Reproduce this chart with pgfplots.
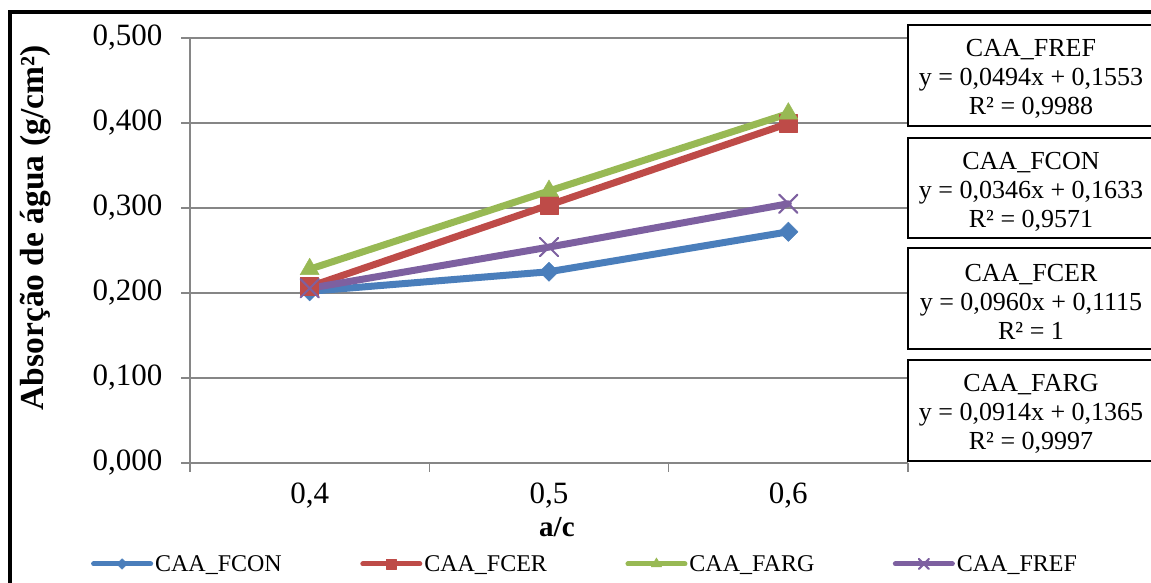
\documentclass[border=0pt]{standalone}
\usepackage{fontspec}
\setmainfont{Liberation Serif}
\usepackage{pgfplots}
\pgfplotsset{compat=1.18}
\definecolor{cblue}{RGB}{74,126,187}
\definecolor{cred}{RGB}{190,75,72}
\definecolor{cgreen}{RGB}{152,185,84}
\definecolor{cpurple}{RGB}{125,96,160}
\definecolor{cgrid}{RGB}{134,134,134}
\begin{document}
\begin{tikzpicture}[x=1bp,y=1bp]
\useasboundingbox (0,0) rectangle (1151,583);
\clip (0,0) rectangle (1151,583);
\begin{axis}[
  at={(190bp,120bp)}, anchor=south west,
  scale only axis, width=718bp, height=425bp,
  xmin=-0.5, xmax=2.5, ymin=0, ymax=0.5,
  axis x line*=bottom, axis y line*=left,
  axis line style={cgrid, line width=1.5bp, -},
  tick align=outside, major tick length=9bp,
  tick style={cgrid, line width=1.5bp},
  xtick={0,1,2}, xticklabels={{0,4},{0,5},{0,6}},
  major x tick style={draw=none},
  extra x ticks={-0.5,0.5,1.5,2.5}, extra x tick labels={},
  extra x tick style={major x tick style={draw=cgrid, line width=1.5bp}, xmajorgrids=false},
  ytick={0,0.1,0.2,0.3,0.4,0.5},
  ymajorgrids, grid style={cgrid, line width=1.5bp},
  ticklabel style={font=\fontsize{31bp}{36bp}\selectfont},
  xticklabel style={yshift=-7bp},
  yticklabel style={xshift=-15bp, /pgf/number format/.cd, fixed, fixed zerofill, precision=3, use comma, assume math mode=true},
  xlabel={\textbf{a/c}},
  xlabel style={font=\fontsize{29bp}{32bp}\selectfont, at={(axis description cs:0.511,-0.1506)}, anchor=center},
  ylabel={\textbf{Absorção de água (g/cm²)}},
  ylabel style={font=\fontsize{33.5bp}{36bp}\selectfont, at={(axis description cs:-0.2145,0.553)}, anchor=center, rotate=0},
  legend columns=4,
  legend style={at={(axis description cs:-0.138,-0.2376)}, anchor=west, draw=none, fill=none,
    font=\fontsize{24bp}{28bp}\selectfont, inner sep=0pt,
    /tikz/every even column/.append style={column sep=76.5bp}},
  legend image code/.code={\draw[mark repeat=2, mark phase=2, #1, line width=5bp, every mark/.append style={scale=0.55}] plot coordinates {(0bp,0bp)(28.5bp,0bp)(57bp,0bp)};},
  every axis plot/.append style={line width=7bp, line cap=round, line join=round},
  clip=false,
]
\addplot[cblue, mark=square*, mark size=6.8bp, mark options={rotate=45, line width=0.5bp, fill=cblue, draw=cblue}]
  coordinates {(0,0.202)(1,0.225)(2,0.272)};
\addlegendentry{CAA\_FCON}
\addplot[cred, mark=square*, mark size=9bp, mark options={line width=0.5bp, fill=cred, draw=cred}]
  coordinates {(0,0.2075)(1,0.3035)(2,0.3995)};
\addlegendentry{CAA\_FCER}
\addplot[cgreen, mark=triangle*, mark size=11bp, mark options={line width=0.5bp, fill=cgreen, draw=cgreen}]
  coordinates {(0,0.228)(1,0.320)(2,0.411)};
\addlegendentry{CAA\_FARG}
\addplot[cpurple, mark=x, mark size=13bp, mark options={line width=2bp, draw=cpurple}]
  coordinates {(0,0.2055)(1,0.254)(2,0.305)};
\addlegendentry{CAA\_FREF}
\end{axis}
\begin{scope}[font=\fontsize{26bp}{29bp}\selectfont]
\draw[line width=1.5bp, fill=white] (908,558) rectangle (1170,457);
\node[align=center] at (1031,504) {CAA\_FREF\\y = 0,0494x + 0,1553\\R² = 0,9988};
\draw[line width=1.5bp, fill=white] (908,445) rectangle (1170,345);
\node[align=center] at (1031,391) {CAA\_FCON\\y = 0,0346x + 0,1633\\R² = 0,9571};
\draw[line width=1.5bp, fill=white] (908,335) rectangle (1170,234);
\node[align=center] at (1031,281) {CAA\_FCER\\y = 0,0960x + 0,1115\\R² = 1};
\draw[line width=1.5bp, fill=white] (908,223) rectangle (1170,122);
\node[align=center] at (1031,169) {CAA\_FARG\\y = 0,0914x + 0,1365\\R² = 0,9997};
\end{scope}
\draw[line width=3.5bp] (10,-20) rectangle (1175,571);
\end{tikzpicture}
\end{document}
